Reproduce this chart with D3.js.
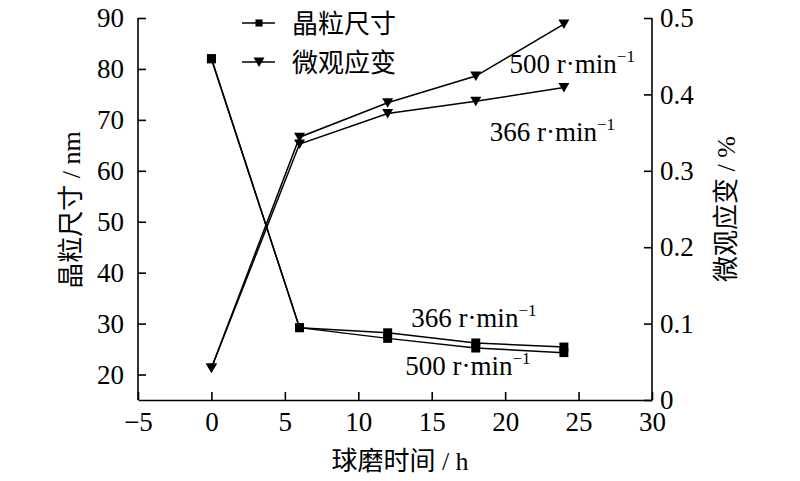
<!DOCTYPE html>
<html>
<head>
<meta charset="utf-8">
<script src="https://cdn.jsdelivr.net/npm/d3@7"></script>
<style>
  html, body { margin: 0; padding: 0; background: #fff; }
</style>
</head>
<body>
<svg id="chart" width="800" height="481"></svg>
<script>
// === Data ===
const times = [0, 6, 12, 18, 24];
const grain366 = [82, 29.2, 28.2, 26.2, 25.4];
const grain500 = [82, 29.2, 27.1, 25.2, 24.3];
const strain366 = [0.042, 0.335, 0.375, 0.391, 0.409];
const strain500 = [0.042, 0.344, 0.389, 0.424, 0.492];

const xTicks = [-5, 0, 5, 10, 15, 20, 25, 30];
const leftTicks = [20, 30, 40, 50, 60, 70, 80, 90];
const rightTicks = [0, 0.1, 0.2, 0.3, 0.4, 0.5];

// annotation labels in data coords: [text, time, value, axis]
const notes = [
  ['500', 20.3, 0.428, 'right'],
  ['366', 18.95, 0.339, 'right'],
  ['366', 13.6, 29.3, 'left'],
  ['500', 13.2, 19.9, 'left']
];

// === Layout ===
const M = { left: 138, right: 652, top: 18, bottom: 400 };
const SERIF = '"Liberation Serif", "Times New Roman", "DejaVu Serif", "Noto Sans CJK SC", serif';

const svg = d3.select('#chart')
  .attr('font-family', SERIF);

const x = d3.scaleLinear().domain([-5, 30]).range([M.left, M.right]);
const yL = d3.scaleLinear().domain([15, 90]).range([M.bottom, M.top]);
const yR = d3.scaleLinear().domain([0, 0.5]).range([M.bottom, M.top]);

// --- Axes ---
const fs = 27;

const gx = svg.append('g').attr('transform', `translate(0,${M.bottom})`)
  .call(d3.axisBottom(x).tickValues(xTicks).tickSize(-8).tickSizeOuter(0).tickPadding(12)
    .tickFormat(d3.format('d')));
const gl = svg.append('g').attr('transform', `translate(${M.left},0)`)
  .call(d3.axisLeft(yL).tickValues(leftTicks).tickSize(-8).tickSizeOuter(0).tickPadding(14));
const gr = svg.append('g').attr('transform', `translate(${M.right},0)`)
  .call(d3.axisRight(yR).tickValues(rightTicks).tickSize(-8).tickSizeOuter(0).tickPadding(8)
    .tickFormat(d => d === 0 ? '0' : d3.format('.1f')(d)));

[gx, gl, gr].forEach(g => {
  g.attr('font-family', SERIF).attr('font-size', fs);
  g.select('.domain').attr('stroke', '#000').attr('stroke-width', 1.6);
  g.selectAll('.tick line').attr('stroke', '#000').attr('stroke-width', 1.6);
  g.selectAll('.tick text').attr('fill', '#000');
});
// left/right domain lines run from top to the bottom axis
gl.select('.domain').attr('d', `M0,${M.top}V${M.bottom}`);
gr.select('.domain').attr('d', `M0,${M.top}V${M.bottom}`);

// --- Axis titles ---
svg.append('text')
  .attr('x', (M.left + M.right) / 2 + 5).attr('y', 470)
  .attr('text-anchor', 'middle').attr('font-size', 26)
  .text('球磨时间 / h');

svg.append('text')
  .attr('transform', 'translate(80,210) rotate(-90)')
  .attr('text-anchor', 'middle').attr('font-size', 26)
  .text('晶粒尺寸 / nm');

svg.append('text')
  .attr('transform', 'translate(735,209) rotate(-90)')
  .attr('text-anchor', 'middle').attr('font-size', 26)
  .text('微观应变 / %');

// --- Lines ---
const lineL = d3.line().x((d, i) => x(times[i])).y(d => yL(d));
const lineR = d3.line().x((d, i) => x(times[i])).y(d => yR(d));

const series = [
  { vals: grain366, line: lineL, y: yL, mark: 'square' },
  { vals: grain500, line: lineL, y: yL, mark: 'square' },
  { vals: strain366, line: lineR, y: yR, mark: 'tri' },
  { vals: strain500, line: lineR, y: yR, mark: 'tri' }
];

svg.append('g').selectAll('path')
  .data(series)
  .join('path')
  .attr('d', s => s.line(s.vals))
  .attr('fill', 'none')
  .attr('stroke', '#000')
  .attr('stroke-width', 1.5);

const sqSym = d3.symbol().type(d3.symbolSquare).size(80);
const triPath = 'M-5.5,-4.5L5.5,-4.5L0,5Z';

series.forEach(s => {
  svg.append('g').selectAll('path')
    .data(s.vals)
    .join('path')
    .attr('transform', (d, i) => `translate(${x(times[i])},${s.y(d)})`)
    .attr('d', s.mark === 'square' ? sqSym() : triPath)
    .attr('fill', '#000');
});

// --- Annotations ---
notes.forEach(([t, tx, v, ax]) => {
  const py = ax === 'right' ? yR(v) : yL(v);
  const txt = svg.append('text')
    .attr('x', x(tx)).attr('y', py)
    .attr('font-size', fs);
  txt.append('tspan').text(t + ' r·min');
  txt.append('tspan').attr('font-size', 17).attr('dy', -11).text('−1');
});

// --- Legend ---
const legendItems = [
  { label: '晶粒尺寸', mark: 'square', y: 23 },
  { label: '微观应变', mark: 'tri', y: 62 }
];
const lg = svg.append('g');
legendItems.forEach(it => {
  lg.append('line')
    .attr('x1', 242).attr('x2', 275)
    .attr('y1', it.y).attr('y2', it.y)
    .attr('stroke', '#000').attr('stroke-width', 1.5);
  lg.append('path')
    .attr('transform', `translate(259,${it.y})`)
    .attr('d', it.mark === 'square' ? d3.symbol().type(d3.symbolSquare).size(50)() : triPath)
    .attr('fill', '#000');
  lg.append('text')
    .attr('x', 292).attr('y', it.y + 10)
    .attr('font-size', 26)
    .text(it.label);
});
</script>
</body>
</html>
